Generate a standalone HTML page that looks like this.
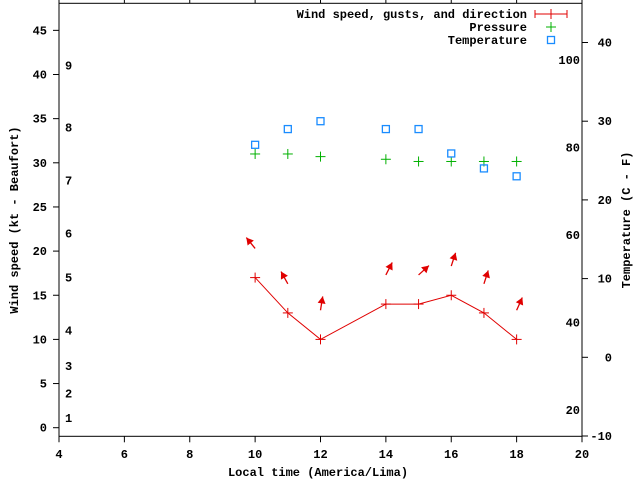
<!DOCTYPE html>
<html><head><meta charset="utf-8"><style>
body{margin:0;background:#fff}
svg{display:block;font-family:"Liberation Mono",monospace;font-weight:bold;font-size:12px}
</style></head><body>
<svg id="c" width="640" height="480" viewBox="0 0 640 480"></svg>
<script>
const hours = [10, 11, 12, 14, 15, 16, 17, 18];
const windSpeed = [17, 13, 10, 14, 14, 15, 13, 10];
const windDir = [321, 331, 9, 27, 48, 18, 18, 24];
const pressure = [31, 31, 30.7, 30.4, 30.15, 30.15, 30.15, 30.15];
const temperature = [27, 29, 30, 29, 29, 25.9, 24, 23];
const xTicks = [4, 6, 8, 10, 12, 14, 16, 18, 20];
const yTicks = [0, 5, 10, 15, 20, 25, 30, 35, 40, 45];
const y2Ticks = [-10, 0, 10, 20, 30, 40];
const fTicks = [20, 40, 60, 80, 100];
const beaufortLabels = ["1","2","3","4","5","6","7","8","9"];
const beaufortKt = [1.1, 3.9, 7, 11, 17, 22, 28, 34, 41];

const L=59,R=582,T=3.3,B=436.3;
const sx=v=>L+(v-4)/16*(R-L);
const sy=v=>427.7-v*8.83;
const sy2=v=>357.3-v*7.87;
const svg=document.getElementById('c');
const NS='http://www.w3.org/2000/svg';
function mk(tag,attrs,parent){const e=document.createElementNS(NS,tag);for(const k in attrs)e.setAttribute(k,attrs[k]);(parent||svg).appendChild(e);return e;}
function txt(x,y,s,anchor,parent,extra){const e=mk('text',Object.assign({x:x,y:y,'text-anchor':anchor||'middle'},extra||{}),parent);e.textContent=s;return e;}

// frame
const frame=mk('rect',{x:L,y:T,width:R-L,height:B-T,fill:'none',stroke:'#000','stroke-width':1});



const xg=mk('g',{});


xTicks.forEach(v=>{
  mk('line',{x1:sx(v),x2:sx(v),y1:B,y2:B+6,stroke:'#000'},xg);
  mk('line',{x1:sx(v),x2:sx(v),y1:T,y2:T-6,stroke:'#000'},xg);
  txt(sx(v),458,String(v),'middle',xg);
});
const yg=mk('g',{});


yTicks.forEach(v=>{
  mk('line',{x1:L-6,x2:L,y1:sy(v),y2:sy(v),stroke:'#000'},yg);
  txt(L-12,sy(v)+4,String(v),'end',yg);
});
const y2g=mk('g',{});


y2Ticks.forEach(v=>{
  mk('line',{x1:R,x2:R+6,y1:sy2(v),y2:sy2(v),stroke:'#000'},y2g);
  txt(R+30,sy2(v)+4,String(v),'end',y2g);
});
const fg=mk('g',{});


fTicks.forEach(v=>{txt(580,sy2((v-32)*5/9)+4,String(v),'end',fg);});
const bg=mk('g',{});


beaufortLabels.forEach((s,i)=>{txt(65,sy(beaufortKt[i])+4,s,'start',bg);});

const yt=txt(0,0,'Wind speed (kt - Beaufort)','middle',null,{transform:'translate(18,220) rotate(-90)'});


const y2t=txt(0,0,'Temperature (C - F)','middle',null,{transform:'translate(630,220) rotate(-90)'});


const xt=txt(318,476,'Local time (America/Lima)','middle');



function plus(x,y,c,g){mk('line',{x1:x-5,x2:x+5,y1:y,y2:y,stroke:c},g);mk('line',{x1:x,x2:x,y1:y-5,y2:y+5,stroke:c},g);}
function sq(x,y,c,g){mk('rect',{x:x-3.5,y:y-3.5,width:7,height:7,fill:'none',stroke:c,'stroke-width':1.3},g);}

// wind line
const wg=mk('g',{});


mk('polyline',{points:hours.map((h,i)=>sx(h)+','+sy(windSpeed[i])).join(' '),fill:'none',stroke:'#e00000'},wg);
hours.forEach((h,i)=>plus(sx(h),sy(windSpeed[i]),'#e00000',wg));
// direction arrows
const ag=mk('g',{});


hours.forEach((h,i)=>{
  const a=windDir[i]*Math.PI/180,x0=sx(h),y0=sy(windSpeed[i]+3.3);
  const dx=Math.sin(a),dy=-Math.cos(a),len=14;
  const x1=x0+dx*len,y1=y0+dy*len;
  mk('line',{x1:x0,y1:y0,x2:x1,y2:y1,stroke:'#e00000','stroke-width':1.3},ag);
  const px=-dy,py=dx;
  mk('polygon',{points:`${x1},${y1} ${x1-dx*7+px*4},${y1-dy*7+py*4} ${x1-dx*7-px*4},${y1-dy*7-py*4}`,fill:'#e00000'},ag);
});
const pg=mk('g',{});


hours.forEach((h,i)=>plus(sx(h),sy(pressure[i]),'#00b000',pg));
const tg=mk('g',{});


hours.forEach((h,i)=>sq(sx(h),sy2(temperature[i]),'#1a8cff',tg));

// legend
const lg=mk('g',{});


txt(527,18,'Wind speed, gusts, and direction','end',lg);
mk('line',{x1:535,x2:567,y1:14,y2:14,stroke:'#e00000'},lg);
mk('line',{x1:535,x2:535,y1:10,y2:18,stroke:'#e00000'},lg);
mk('line',{x1:567,x2:567,y1:10,y2:18,stroke:'#e00000'},lg);
plus(551,14,'#e00000',lg);
txt(527,31,'Pressure','end',lg);
plus(551,27,'#00b000',lg);
txt(527,44,'Temperature','end',lg);
sq(551,40,'#1a8cff',lg);
</script>
</body></html>
